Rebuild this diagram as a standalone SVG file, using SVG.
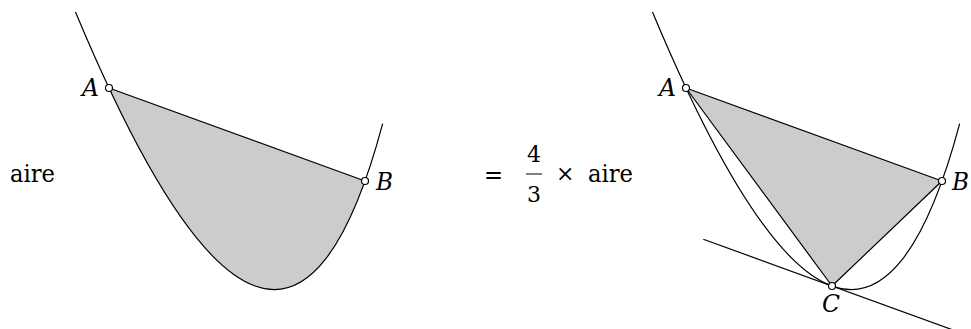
<svg xmlns="http://www.w3.org/2000/svg" width="971" height="329" viewBox="0 0 971 329">
<style>
.curve{fill:none;stroke:#000;stroke-width:1.2}
.seg{fill:none;stroke:#000;stroke-width:1.2;stroke-linejoin:round}
.fill{fill:#cccccc;stroke:none}
.pt{fill:#fff;stroke:#000;stroke-width:1.2}
</style>
<rect width="971" height="329" fill="#fff"/>
<g id="left-figure">
  <path class="fill" d="M109,88 Q273,437.5 365,181 Z"/>
  <path class="curve" d="M75.48,12.04 Q280.92,504.16 382.68,123.64"/>
  <line class="seg" x1="109" y1="88" x2="365" y2="181"/>
</g>
<g id="right-figure">
  <polygon class="fill" points="686,88 942,181 832,286"/>
  <path class="curve" d="M652.48,12.04 Q857.92,504.16 959.68,123.64"/>
  <line class="seg" x1="703.3" y1="239.2" x2="952" y2="329.6"/>
  <polygon class="seg" points="686,88 942,181 832,286"/>
</g>
<g font-family="DejaVu Serif, serif" font-style="italic" font-size="24" fill="#000">
<g id="point-A-left"><circle class="pt" cx="109" cy="88" r="3.5"/><text x="82" y="96" textLength="17" lengthAdjust="spacingAndGlyphs">A</text></g>
<g id="point-B-left"><circle class="pt" cx="365" cy="181" r="3.5"/><text x="376" y="190" textLength="17" lengthAdjust="spacingAndGlyphs">B</text></g>
<g id="point-A-right"><circle class="pt" cx="686" cy="88" r="3.5"/><text x="659" y="96" textLength="17" lengthAdjust="spacingAndGlyphs">A</text></g>
<g id="point-B-right"><circle class="pt" cx="942" cy="181" r="3.5"/><text x="952" y="190" textLength="17" lengthAdjust="spacingAndGlyphs">B</text></g>
<g id="point-C-right"><circle class="pt" cx="832" cy="286" r="3.5"/><text x="822" y="311.5" textLength="18" lengthAdjust="spacingAndGlyphs">C</text></g>
</g>
<g id="equation" font-family="DejaVu Serif, serif" font-size="25" fill="#000">
  <text x="10" y="182" textLength="45" lengthAdjust="spacingAndGlyphs">aire</text>
  <text x="484" y="182.5" textLength="19" lengthAdjust="spacingAndGlyphs">=</text>
  <text x="527" y="161.5" font-size="22" textLength="14" lengthAdjust="spacingAndGlyphs">4</text>
  <line x1="526" y1="174" x2="542" y2="174" stroke="#000" stroke-width="1"/>
  <text x="527" y="201.5" font-size="22" textLength="14" lengthAdjust="spacingAndGlyphs">3</text>
  <text x="556" y="181" font-size="22">×</text>
  <text x="588" y="182" textLength="45" lengthAdjust="spacingAndGlyphs">aire</text>
</g>
</svg>
